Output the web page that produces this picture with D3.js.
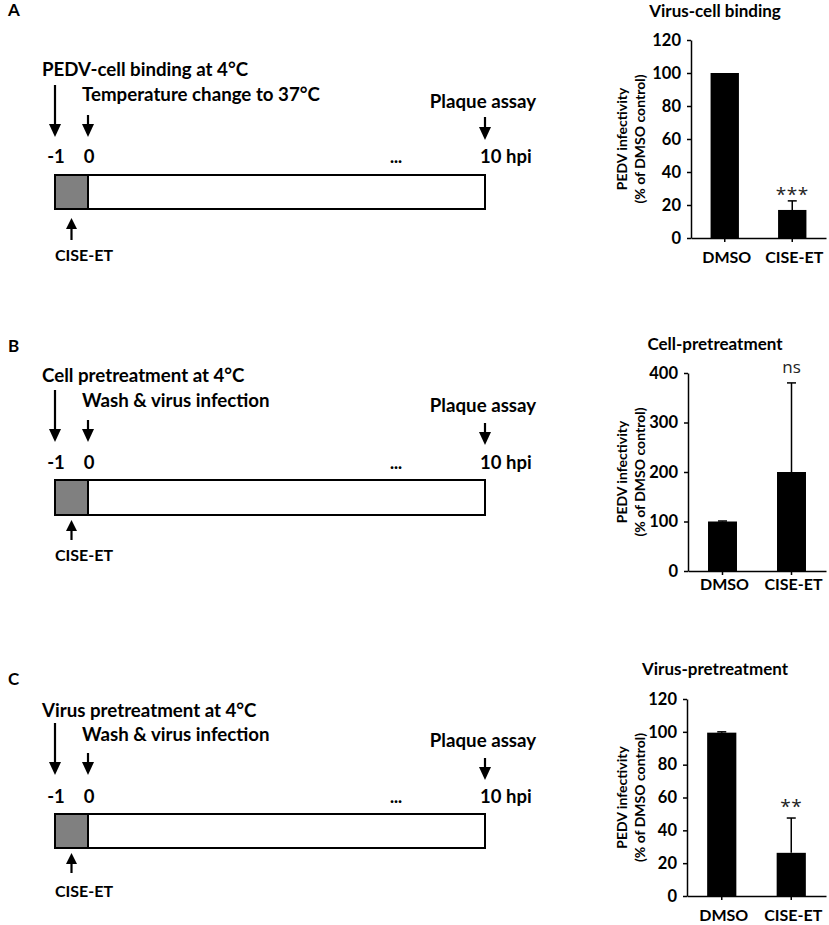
<!DOCTYPE html>
<html>
<head>
<meta charset="utf-8">
<script src="https://cdn.jsdelivr.net/npm/d3@7"></script>
<style>
  body { margin: 0; background: #fff; }
  svg { display: block; font-family: Lato, "Open Sans", sans-serif; font-weight: bold; }
</style>
</head>
<body>
<svg width="829" height="925"></svg>
<script>
const width = 829, height = 925;
const svg = d3.select("svg");

// --- data ---
const categories = ["DMSO", "CISE-ET"];
const bindingValues = [100, 17];
const bindingErrors = [0, 5.5];
const cellValues = [100, 200];
const cellErrors = [1, 180];
const virusValues = [99.5, 26.3];
const virusErrors = [0.5, 21.2];
const bindingTicks = [0, 20, 40, 60, 80, 100, 120];
const cellTicks = [0, 100, 200, 300, 400];
const virusTicks = [0, 20, 40, 60, 80, 100, 120];
const significance = ["***", "ns", "**"];
const chartTitles = ["Virus-cell binding", "Cell-pretreatment", "Virus-pretreatment"];
const yLabelLines = ["PEDV infectivity", "(% of DMSO control)"];

const panelLetters = ["A", "B", "C"];
const firstSteps = ["PEDV-cell binding at 4°C", "Cell pretreatment at 4°C", "Virus pretreatment at 4°C"];
const secondSteps = ["Temperature change to 37°C", "Wash & virus infection", "Wash & virus infection"];
const timePoints = [-1, 0, 10];
const timeLabels = ["-1", "0", "10 hpi"];
const lastStep = "Plaque assay";
const drugLabel = "CISE-ET";

// --- layout of each panel (pixels) ---
const diagramLayout = [
  { letter: 16, step1: 76, step2: 101, plaque: 108, arrow1: [85, 137], arrow2: [115, 137], arrow3: [117, 140], times: 163, rect: [175, 209], drug: [218, 240], drugText: 261 },
  { letter: 352, step1: 382, step2: 407, plaque: 412, arrow1: [390, 442], arrow2: [420, 442], arrow3: [423, 445], times: 469, rect: [480, 515], drug: [520, 540], drugText: 561 },
  { letter: 685, step1: 717, step2: 741, plaque: 747, arrow1: [723, 775], arrow2: [753, 775], arrow3: [758, 780], times: 803, rect: [814, 848], drug: [853, 873], drugText: 897 }
];
const chartLayout = [
  { axisX: 691, y0: 238, y1: 40, title: 17, cat: 263, sigDy: 0 },
  { axisX: 688, y0: 571, y1: 373, title: 350, cat: 590, sigDy: -10 },
  { axisX: 687, y0: 896, y1: 699, title: 675, cat: 921, sigDy: -5 }
];
const chartData = [
  { values: bindingValues, errors: bindingErrors, ticks: bindingTicks },
  { values: cellValues, errors: cellErrors, ticks: cellTicks },
  { values: virusValues, errors: virusErrors, ticks: virusTicks }
];

// timeline scale (broken axis: -1 -> 0 short, 0 -> 10 long)
const t = d3.scaleLinear().domain([-1, 0, 10]).range([55, 88, 485]);

function arrow(g, x, ya, yb, head, half) {
  // ya = tail, yb = tip
  const dir = yb > ya ? 1 : -1;
  g.append("line")
    .attr("x1", x).attr("x2", x)
    .attr("y1", ya).attr("y2", yb - dir * head * 0.8)
    .attr("stroke", "#000").attr("stroke-width", 2.2);
  g.append("path")
    .attr("d", `M${x - half},${yb - dir * head}L${x + half},${yb - dir * head}L${x},${yb}Z`)
    .attr("fill", "#000");
}

function drawDiagram(i) {
  const L = diagramLayout[i];
  const g = svg.append("g").attr("class", "diagram");

  g.append("text").attr("x", 8).attr("y", L.letter)
    .attr("font-size", "17px").text(panelLetters[i]);

  g.append("text").attr("x", t(-1) - 13).attr("y", L.step1)
    .attr("font-size", "18.7px").text(firstSteps[i]);
  g.append("text").attr("x", t(0) - 6).attr("y", L.step2)
    .attr("font-size", "18.7px").text(secondSteps[i]);
  g.append("text").attr("x", t(10) - 2).attr("y", L.plaque)
    .attr("text-anchor", "middle").attr("font-size", "18.7px").text(lastStep);

  arrow(g, t(-1), L.arrow1[0], L.arrow1[1], 13, 6);
  arrow(g, t(0), L.arrow2[0], L.arrow2[1], 13, 6);
  arrow(g, t(10), L.arrow3[0], L.arrow3[1], 13, 6);

  g.selectAll("text.time")
    .data(timePoints)
    .enter()
    .append("text")
    .attr("class", "time")
    .attr("x", (d, k) => k === 2 ? t(d) - 5 : t(d) + 1)
    .attr("y", L.times)
    .attr("text-anchor", (d, k) => k === 2 ? "start" : "middle")
    .attr("font-size", "18.5px")
    .text((d, k) => timeLabels[k]);

  g.append("text").attr("x", 396).attr("y", L.times)
    .attr("text-anchor", "middle").attr("font-size", "17px").attr("font-weight", 900).text("...");

  // treatment window + rest of infection
  g.append("rect")
    .attr("x", t(0)).attr("y", L.rect[0])
    .attr("width", t(10) - t(0)).attr("height", L.rect[1] - L.rect[0])
    .attr("fill", "#fff").attr("stroke", "#000").attr("stroke-width", 2);
  g.append("rect")
    .attr("x", t(-1)).attr("y", L.rect[0])
    .attr("width", t(0) - t(-1)).attr("height", L.rect[1] - L.rect[0])
    .attr("fill", "#808080").attr("stroke", "#000").attr("stroke-width", 2);

  arrow(g, t(-0.5), L.drug[1], L.drug[0], 11, 5.5);
  g.append("text").attr("x", 55).attr("y", L.drugText)
    .attr("font-size", "16px").text(drugLabel);
}

function drawChart(i) {
  const L = chartLayout[i];
  const D = chartData[i];
  const g = svg.append("g").attr("class", "chart");
  const rows = categories.map((c, k) => ({ cat: c, value: D.values[k], err: D.errors[k] }));

  const x = d3.scaleBand().domain(categories).range([L.axisX, 826]).padding(0);
  const y = d3.scaleLinear().domain([0, d3.max(D.ticks)]).range([L.y0, L.y1]);
  const barW = x.bandwidth() * 0.42;

  g.append("text")
    .attr("x", 715).attr("y", L.title)
    .attr("text-anchor", "middle").attr("font-size", "17px")
    .text(chartTitles[i]);

  // bars
  g.selectAll("rect.bar")
    .data(rows)
    .enter()
    .append("rect")
    .attr("class", "bar")
    .attr("x", d => x(d.cat) + x.bandwidth() / 2 - barW / 2)
    .attr("y", d => y(d.value))
    .attr("width", barW)
    .attr("height", d => y(0) - y(d.value))
    .attr("fill", "#000");

  // upper error bars
  const eb = g.selectAll("g.err").data(rows).enter().append("g").attr("class", "err");
  eb.append("line")
    .attr("x1", d => x(d.cat) + x.bandwidth() / 2)
    .attr("x2", d => x(d.cat) + x.bandwidth() / 2)
    .attr("y1", d => y(d.value))
    .attr("y2", d => y(d.value + d.err))
    .attr("stroke", "#000").attr("stroke-width", 1.5);
  eb.append("line")
    .attr("x1", d => x(d.cat) + x.bandwidth() / 2 - 4.5)
    .attr("x2", d => x(d.cat) + x.bandwidth() / 2 + 4.5)
    .attr("y1", d => y(d.value + d.err))
    .attr("y2", d => y(d.value + d.err))
    .attr("stroke", "#000").attr("stroke-width", 1.5)
    .attr("opacity", d => d.err > 0 ? 1 : 0);

  // significance mark over the treated bar
  const treated = rows[1];
  const sig = significance[i];
  g.append("text")
    .attr("x", x(treated.cat) + x.bandwidth() / 2)
    .attr("y", y(treated.value + treated.err) + L.sigDy)
    .attr("text-anchor", "middle")
    .attr("font-family", "'Open Sans', sans-serif")
    .attr("font-weight", "normal")
    .attr("font-size", sig === "ns" ? "17px" : "19px")
    .attr("fill", "#222")
    .attr("letter-spacing", sig === "ns" ? "0px" : "0.5px")
    .text(sig);

  // axes
  const yAxis = g.append("g")
    .attr("transform", `translate(${L.axisX},0)`)
    .call(d3.axisLeft(y).tickValues(D.ticks).tickSize(4).tickSizeOuter(0).tickPadding(6));
  yAxis.selectAll("text").attr("font-size", "16.5px").attr("font-family", "Lato, sans-serif").attr("font-weight", "bold").attr("fill", "#000");
  yAxis.selectAll("path, line").attr("stroke", "#000").attr("stroke-width", 1.5);

  const xAxis = g.append("g")
    .attr("transform", `translate(0,${L.y0})`)
    .call(d3.axisBottom(x).tickSize(4).tickSizeOuter(0).tickFormat(""));
  xAxis.selectAll("path, line").attr("stroke", "#000").attr("stroke-width", 1.5);

  g.selectAll("text.cat")
    .data(categories)
    .enter()
    .append("text")
    .attr("class", "cat")
    .attr("x", d => x(d) + x.bandwidth() / 2 + 2)
    .attr("y", L.cat)
    .attr("text-anchor", "middle")
    .attr("font-size", "16px")
    .text(d => d);

  // rotated two-line y label
  const midY = (L.y0 + L.y1) / 2;
  g.selectAll("text.ylab")
    .data(yLabelLines)
    .enter()
    .append("text")
    .attr("class", "ylab")
    .attr("transform", (d, k) => `translate(${627 + k * 18},${midY}) rotate(-90)`)
    .attr("text-anchor", "middle")
    .attr("font-size", "14px")
    .text(d => d);
}

[0, 1, 2].forEach(i => { drawDiagram(i); drawChart(i); });
</script>
</body>
</html>
